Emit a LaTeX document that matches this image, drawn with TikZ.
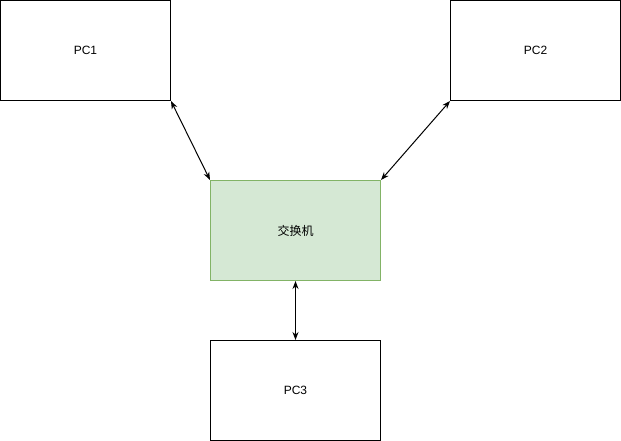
\documentclass[tikz,border=0pt]{standalone}
\usepackage{fontspec}
\setmainfont{Liberation Sans}
\newfontfamily\cjk{Noto Sans CJK SC}
\usetikzlibrary{arrows.meta}
\definecolor{swfill}{HTML}{D5E8D4}
\definecolor{swline}{HTML}{82B366}
\begin{document}
\begin{tikzpicture}[x=1pt,y=-1pt,
  box/.style={draw,line width=1pt,minimum width=170pt,minimum height=100pt,inner sep=0pt,font=\fontsize{12}{14}\selectfont},
  link/.style={{Stealth[length=8pt,width=6pt]}-{Stealth[length=8pt,width=6pt]},line width=1pt}]
            \useasboundingbox (-0.5,-0.5) rectangle (620.5,440.5);
            \node (pc1) at (85,50) [box] {PC1};
            \node (pc2) at (535,50) [box] {PC2};
            \node (sw) at (295,230) [box,draw=swline,fill=swfill] {\cjk 交换机};
            \node (pc3) at (295,390) [box] {PC3};
            \draw[link] (pc1.south east) -- (sw.north west);
            \draw[link] (pc2.south west) -- (sw.north east);
            \draw[link] (sw.south) -- (pc3.north);
        \end{tikzpicture}
\end{document}
